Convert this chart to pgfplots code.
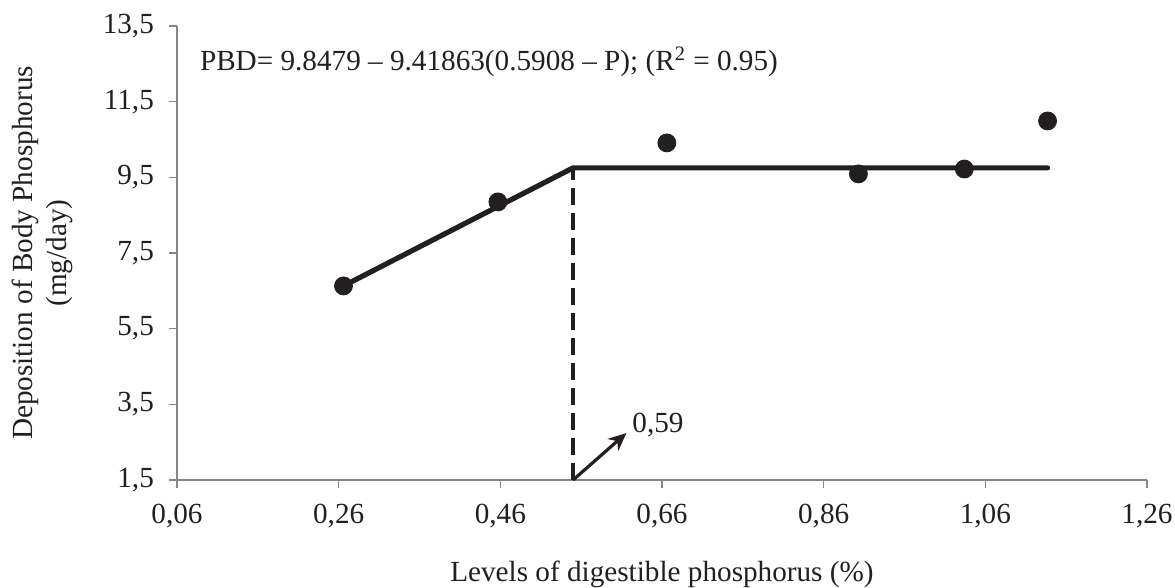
\documentclass[border=0pt]{standalone}
\usepackage{pgfplots}
\pgfplotsset{compat=1.18}
\usepackage{fontspec}
\setmainfont{Liberation Serif}
\usetikzlibrary{arrows.meta}
\definecolor{ink}{HTML}{231F20}
\definecolor{axgray}{HTML}{868686}

\begin{document}
\fontsize{14.6}{17}\selectfont
\begin{tikzpicture}
% page = 1175 x 588 px at 0.5pt per px
\path[use as bounding box] (-88.5pt,-54pt) rectangle (499pt,240pt);
\begin{axis}[
  at={(0,0)}, anchor=south west,
  scale only axis, width=485pt, height=227pt,
  xmin=0.06, xmax=1.26, ymin=1.5, ymax=13.5,
  xtick={0.06,0.26,0.46,0.66,0.86,1.06,1.26},
  ytick={1.5,3.5,5.5,7.5,9.5,11.5,13.5},
  axis lines=left, axis line style={-, axgray, line width=0.8pt},
  tick style={axgray, line width=0.8pt},
  tick align=outside, major tick length=4pt,
  xticklabel style={yshift=-3pt, /pgf/number format/.cd, fixed, fixed zerofill, precision=2, use comma, assume math mode=true},
  yticklabel style={xshift=-2.5pt, /pgf/number format/.cd, fixed, fixed zerofill, precision=1, use comma, assume math mode=true},
  tick label style={font=\fontsize{14.6}{17}\selectfont, text=ink},
  xlabel={Levels of digestible phosphorus (\%)},
  ylabel={Deposition of Body Phosphorus\\(mg/day)},
  ylabel style={align=center, font=\fontsize{14.6}{17}\selectfont, text=ink},
  xlabel style={font=\fontsize{14.6}{17}\selectfont, text=ink},
  xlabel style={at={(axis description cs:0.5,0)}, yshift=-35.5pt},
  ylabel style={at={(axis description cs:0,0.5)}, yshift=47pt},
  clip=false,
]
% fitted broken line
\addplot[ink, line width=2.6pt, line cap=round, no markers] coordinates {
  (0.266,6.63) (0.550,9.75) (1.137,9.75)};
% break point
\addplot[ink, line width=1.6pt, dash pattern=on 8.5pt off 4pt, no markers] coordinates {
  (0.550,1.5) (0.550,9.75)};
% observed values
\addplot[only marks, mark=*, mark size=4.5pt, ink, mark options={fill=ink}] coordinates {
  (0.266,6.63) (0.457,8.85) (0.666,10.41) (0.903,9.59) (1.034,9.72) (1.137,10.99)};
\draw[ink, line width=1.6pt, -{Stealth[length=9pt,width=8pt]}] (axis cs:0.550,1.5) -- (axis cs:0.616,2.74);
\node[anchor=west, text=ink, inner sep=0pt] at (axis cs:0.623,2.95) {0,59};
\node[anchor=west, text=ink, inner sep=0pt] at (axis cs:0.088,12.55)
  {PBD= 9.8479 – 9.41863(0.5908 – P); (R\textsuperscript{2} = 0.95)};
\end{axis}
\end{tikzpicture}
\end{document}
